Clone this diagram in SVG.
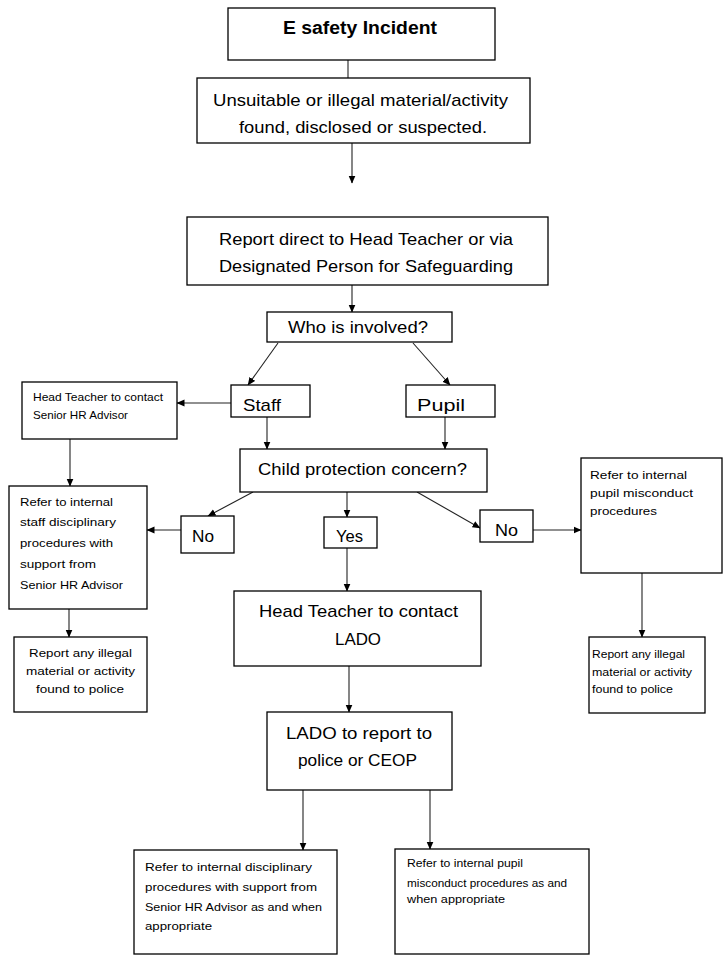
<svg xmlns="http://www.w3.org/2000/svg" width="724" height="960" viewBox="0 0 724 960">
<style>
.box{fill:#fff;stroke:#000;stroke-width:1.3}
.ln{stroke:#222;stroke-width:1.1;fill:none}
.ar{marker-end:url(#ah)}
.t{font-family:"Liberation Sans",Arial,sans-serif;font-size:17px;fill:#000}
.b{font-weight:bold;font-size:18px}
.s{font-family:"Liberation Sans",Arial,sans-serif;font-size:11.5px;fill:#000}
.m{text-anchor:middle}
</style>
<defs>
<marker id="ah" markerWidth="8" markerHeight="8" refX="7.5" refY="4" orient="auto" markerUnits="userSpaceOnUse">
<path d="M0,0.5 L8,4 L0,7.5 z" fill="#000"/>
</marker>
</defs>
<rect width="724" height="960" fill="#fff"/>
<g id="connectors">
<line class="ln" x1="348" y1="52" x2="348" y2="78"/>
<line class="ln ar" x1="352" y1="143" x2="352" y2="183"/>
<line class="ln ar" x1="352" y1="285" x2="352" y2="312"/>
<line class="ln ar" x1="278" y1="343" x2="248" y2="385"/>
<line class="ln ar" x1="413" y1="343" x2="450" y2="385"/>
<line class="ln ar" x1="231" y1="403" x2="177" y2="403"/>
<line class="ln ar" x1="267" y1="417" x2="267" y2="449"/>
<line class="ln ar" x1="445" y1="417" x2="445" y2="449"/>
<line class="ln ar" x1="70" y1="439" x2="70" y2="486"/>
<line class="ln ar" x1="253" y1="492" x2="208" y2="516"/>
<line class="ln ar" x1="347" y1="492" x2="347" y2="517"/>
<line class="ln ar" x1="417" y1="492" x2="480" y2="528"/>
<line class="ln ar" x1="181" y1="530" x2="147" y2="530"/>
<line class="ln ar" x1="533" y1="530" x2="581" y2="530"/>
<line class="ln ar" x1="69" y1="609" x2="69" y2="637"/>
<line class="ln ar" x1="642" y1="573" x2="642" y2="637"/>
<line class="ln ar" x1="347" y1="548" x2="347" y2="591"/>
<line class="ln ar" x1="349" y1="666" x2="349" y2="712"/>
<line class="ln ar" x1="303" y1="790" x2="303" y2="850"/>
<line class="ln ar" x1="430" y1="790" x2="430" y2="849"/>
</g>
<g id="n-incident"><rect class="box" x="228" y="8" width="267" height="52"/>
<text class="t b m" x="360" y="34" textLength="154" lengthAdjust="spacingAndGlyphs">E safety Incident</text></g>
<g id="n-found"><rect class="box" x="197" y="78" width="333" height="65"/>
<text class="t m" x="360.5" y="106" textLength="295" lengthAdjust="spacingAndGlyphs">Unsuitable or illegal material/activity</text>
<text class="t m" x="363" y="133" textLength="248" lengthAdjust="spacingAndGlyphs">found, disclosed or suspected.</text></g>
<g id="n-report"><rect class="box" x="187" y="217" width="361" height="68"/>
<text class="t m" x="366" y="245" textLength="294" lengthAdjust="spacingAndGlyphs">Report direct to Head Teacher or via</text>
<text class="t m" x="366" y="272" textLength="294" lengthAdjust="spacingAndGlyphs">Designated Person for Safeguarding</text></g>
<g id="n-who"><rect class="box" x="267" y="312" width="185" height="30"/>
<text class="t m" x="358" y="333" textLength="140" lengthAdjust="spacingAndGlyphs">Who is involved?</text></g>
<g id="n-staff"><rect class="box" x="231" y="385" width="79" height="32"/>
<text class="t" x="243" y="411" textLength="38" lengthAdjust="spacingAndGlyphs">Staff</text></g>
<g id="n-pupil"><rect class="box" x="406" y="385" width="89" height="32"/>
<text class="t" x="417" y="411" textLength="48" lengthAdjust="spacingAndGlyphs">Pupil</text></g>
<g id="n-hrcontact"><rect class="box" x="22" y="382" width="155" height="57"/>
<text class="s" x="33" y="401" textLength="130" lengthAdjust="spacingAndGlyphs">Head Teacher to contact</text>
<text class="s" x="33" y="419" textLength="95" lengthAdjust="spacingAndGlyphs">Senior HR Advisor</text></g>
<g id="n-staffdisc"><rect class="box" x="9" y="486" width="138" height="123"/>
<text class="s" x="20" y="506" textLength="93" lengthAdjust="spacingAndGlyphs">Refer to internal</text>
<text class="s" x="20" y="526" textLength="96" lengthAdjust="spacingAndGlyphs">staff disciplinary</text>
<text class="s" x="20" y="547" textLength="93" lengthAdjust="spacingAndGlyphs">procedures with</text>
<text class="s" x="20" y="568" textLength="76" lengthAdjust="spacingAndGlyphs">support from</text>
<text class="s" x="20" y="589" textLength="103" lengthAdjust="spacingAndGlyphs">Senior HR Advisor</text></g>
<g id="n-reportL"><rect class="box" x="14" y="637" width="133" height="75"/>
<text class="s" x="29" y="657" textLength="103" lengthAdjust="spacingAndGlyphs">Report any illegal</text>
<text class="s" x="26" y="675" textLength="109" lengthAdjust="spacingAndGlyphs">material or activity</text>
<text class="s" x="36" y="693" textLength="88" lengthAdjust="spacingAndGlyphs">found to police</text></g>
<g id="n-cp"><rect class="box" x="240" y="449" width="247" height="43"/>
<text class="t m" x="362.5" y="475" textLength="209" lengthAdjust="spacingAndGlyphs">Child protection concern?</text></g>
<g id="n-noL"><rect class="box" x="181" y="516" width="53" height="37"/>
<text class="t" x="192" y="542" textLength="22" lengthAdjust="spacingAndGlyphs">No</text></g>
<g id="n-yes"><rect class="box" x="324" y="517" width="53" height="31"/>
<text class="t" x="336" y="542" textLength="27" lengthAdjust="spacingAndGlyphs">Yes</text></g>
<g id="n-noR"><rect class="box" x="480" y="510" width="53" height="32"/>
<text class="t" x="495" y="536" textLength="23" lengthAdjust="spacingAndGlyphs">No</text></g>
<g id="n-pupilmis"><rect class="box" x="581" y="458" width="141" height="115"/>
<text class="s" x="590" y="479" textLength="97" lengthAdjust="spacingAndGlyphs">Refer to internal</text>
<text class="s" x="590" y="497" textLength="103" lengthAdjust="spacingAndGlyphs">pupil misconduct</text>
<text class="s" x="590" y="515" textLength="67" lengthAdjust="spacingAndGlyphs">procedures</text></g>
<g id="n-reportR"><rect class="box" x="589" y="637" width="116" height="76"/>
<text class="s" x="592" y="658" textLength="93" lengthAdjust="spacingAndGlyphs">Report any illegal</text>
<text class="s" x="592" y="676" textLength="100" lengthAdjust="spacingAndGlyphs">material or activity</text>
<text class="s" x="592" y="693" textLength="81" lengthAdjust="spacingAndGlyphs">found to police</text></g>
<g id="n-htlado"><rect class="box" x="234" y="591" width="247" height="75"/>
<text class="t m" x="358.5" y="617" textLength="199" lengthAdjust="spacingAndGlyphs">Head Teacher to contact</text>
<text class="t m" x="358" y="645" textLength="46" lengthAdjust="spacingAndGlyphs">LADO</text></g>
<g id="n-lado"><rect class="box" x="267" y="712" width="185" height="78"/>
<text class="t m" x="359" y="739" textLength="146" lengthAdjust="spacingAndGlyphs">LADO to report to</text>
<text class="t m" x="357.5" y="766" textLength="119" lengthAdjust="spacingAndGlyphs">police or CEOP</text></g>
<g id="n-botL"><rect class="box" x="134" y="850" width="203" height="104"/>
<text class="s" x="145" y="871" textLength="167" lengthAdjust="spacingAndGlyphs">Refer to internal disciplinary</text>
<text class="s" x="145" y="891" textLength="172" lengthAdjust="spacingAndGlyphs">procedures with support from</text>
<text class="s" x="145" y="911" textLength="177" lengthAdjust="spacingAndGlyphs">Senior HR Advisor as and when</text>
<text class="s" x="145" y="930" textLength="67" lengthAdjust="spacingAndGlyphs">appropriate</text></g>
<g id="n-botR"><rect class="box" x="395" y="849" width="194" height="105"/>
<text class="s" x="407" y="867" textLength="116" lengthAdjust="spacingAndGlyphs">Refer to internal pupil</text>
<text class="s" x="407" y="887" textLength="160" lengthAdjust="spacingAndGlyphs">misconduct procedures as and</text>
<text class="s" x="407" y="903" textLength="98" lengthAdjust="spacingAndGlyphs">when appropriate</text></g>
</svg>
